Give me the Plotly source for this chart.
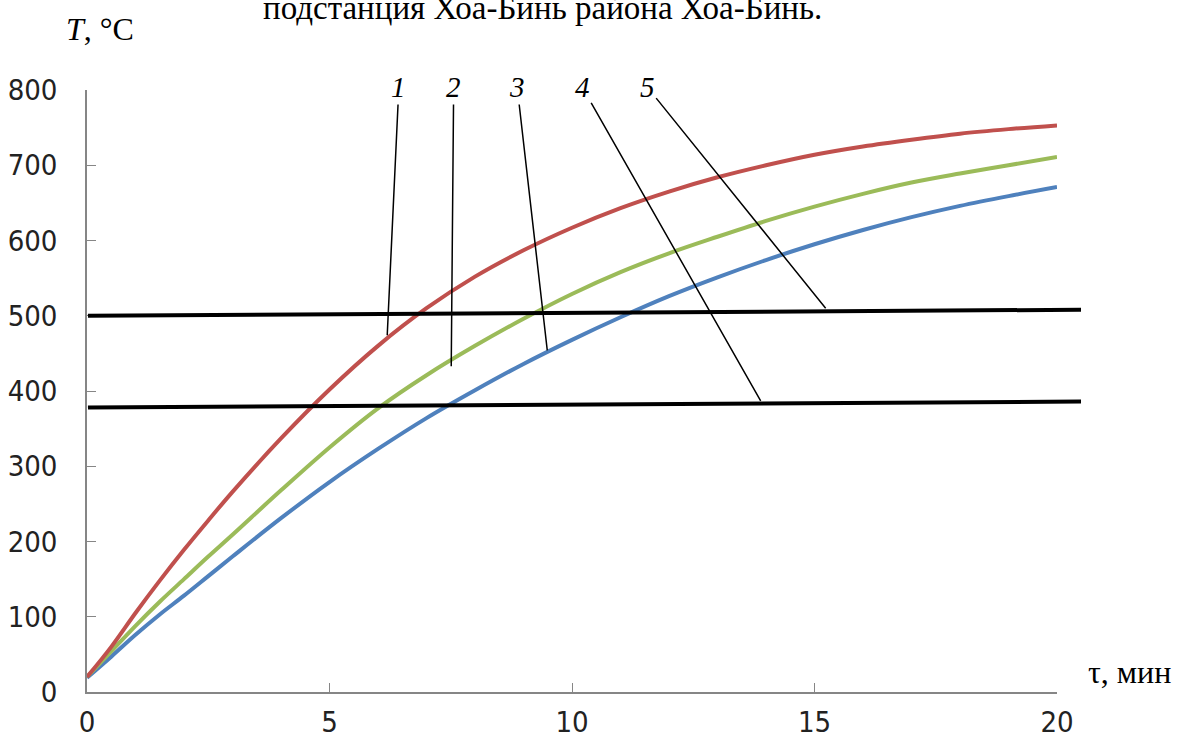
import plotly.graph_objects as go

# time, minutes
t = [0, 0.5, 1, 1.5, 2, 2.5, 3, 4, 5, 6, 7, 8, 9, 10, 11, 12, 13, 14, 15, 16, 17, 18, 19, 20]
# curve 1 (red)
T1 = [20, 60, 105, 148, 189, 228, 266, 337, 402, 460, 510, 552, 587, 617, 643, 665, 684, 700, 714, 725, 734, 742, 748, 753]
# curve 2 (green)
T2 = [20, 54, 88, 120, 150, 180, 209, 268, 325, 377, 421, 460, 496, 529, 558, 583, 605, 626, 645, 662, 677, 689, 700, 711]
# curve 3 (blue)
T3 = [19, 47, 76, 103, 128, 154, 180, 231, 279, 323, 364, 401, 436, 468, 498, 526, 551, 574, 595, 614, 631, 646, 659, 671]

# horizontal limit lines (4 lower, 5 upper)
t_lim = [0.02, 20.5]
T_lim4 = [378, 386]
T_lim5 = [500, 508]

# callout labels: label (t, T) and pointed point (t, T)
labels = ["1", "2", "3", "4", "5"]
label_t = [6.43, 7.56, 8.87, 10.21, 11.55]
label_T = [804, 804, 804, 804, 804]
tip_t = [6.19, 7.51, 9.49, 13.89, 15.23]
tip_T = [474, 433, 454, 387, 510]

x_ticks = [0, 5, 10, 15, 20]
y_ticks = [0, 100, 200, 300, 400, 500, 600, 700, 800]

serif = "Liberation Serif, Times New Roman, serif"
sans = "Liberation Sans Narrow, DejaVu Sans Condensed, Arial Narrow, sans-serif"

fig = go.Figure()
fig.add_trace(go.Scatter(x=t, y=T3, mode="lines", line=dict(color="#4F81BD", width=4, shape="spline"),
                         xaxis="x", yaxis="y", showlegend=False))
fig.add_trace(go.Scatter(x=t, y=T2, mode="lines", line=dict(color="#9BBB59", width=4, shape="spline"),
                         xaxis="x", yaxis="y", showlegend=False))
fig.add_trace(go.Scatter(x=t, y=T1, mode="lines", line=dict(color="#C0504D", width=4, shape="spline"),
                         xaxis="x", yaxis="y", showlegend=False))
fig.add_trace(go.Scatter(x=t_lim, y=T_lim5, mode="lines", line=dict(color="black", width=4),
                         xaxis="x2", yaxis="y2", showlegend=False))
fig.add_trace(go.Scatter(x=t_lim, y=T_lim4, mode="lines", line=dict(color="black", width=4),
                         xaxis="x2", yaxis="y2", showlegend=False))

for lab, lt, lT, tt, tT in zip(labels, label_t, label_T, tip_t, tip_T):
    fig.add_annotation(x=tt, y=tT, xref="x", yref="y", ax=lt, ay=lT, axref="x", ayref="y",
                       text="<i>%s</i>" % lab, showarrow=True, arrowhead=0, arrowwidth=1.5,
                       arrowcolor="black", standoff=0, startstandoff=0,
                       font=dict(family=serif, size=29, color="black"))

x_dom_end = 970 / 994
fig.add_annotation(x=(100 - 87) / 994, y=(692 - 29) / 602, xref="paper", yref="paper",
                   xanchor="center", yanchor="middle",
                   text="<i>T</i>, °C", showarrow=False, font=dict(family=serif, size=32, color="black"))
fig.add_annotation(x=(1129 - 87) / 994, y=(692 - 672) / 602, xref="paper", yref="paper",
                   xanchor="center", yanchor="middle",
                   text="τ, мин", showarrow=False, font=dict(family=serif, size=32, color="black"))
fig.add_annotation(x=(542 - 87) / 994, y=(692 - 8) / 602, xref="paper", yref="paper",
                   xanchor="center", yanchor="middle",
                   text="подстанция Хоа-Бинь района Хоа-Бинь.", showarrow=False,
                   font=dict(family=serif, size=33, color="black"))

axis_gray = "#868686"
fig.update_layout(
    width=1177, height=749,
    margin=dict(l=87, r=96, t=90, b=57, autoexpand=False),
    paper_bgcolor="white", plot_bgcolor="rgba(0,0,0,0)",
    xaxis=dict(domain=[0, x_dom_end], range=[0, 20], tickvals=x_ticks, ticks="inside", ticklen=9,
               tickcolor=axis_gray, tickwidth=1, showline=True, linecolor=axis_gray, linewidth=1.5,
               showgrid=False, zeroline=False, ticklabelstandoff=3, automargin=False,
               tickfont=dict(family=sans, size=29, color="#222")),
    yaxis=dict(domain=[0, 1], range=[0, 800], tickvals=y_ticks, ticks="inside", ticklen=9,
               tickcolor=axis_gray, tickwidth=1, showline=True, linecolor=axis_gray, linewidth=1.5,
               showgrid=False, zeroline=False, ticklabelstandoff=22, automargin=False,
               tickfont=dict(family=sans, size=29, color="#222")),
    xaxis2=dict(domain=[0, 1], range=[0, 20 / x_dom_end], visible=False, anchor="y2", automargin=False),
    yaxis2=dict(domain=[0, 1], range=[0, 800], visible=False, anchor="x2", automargin=False),
)

fig.write_html("out.html")
